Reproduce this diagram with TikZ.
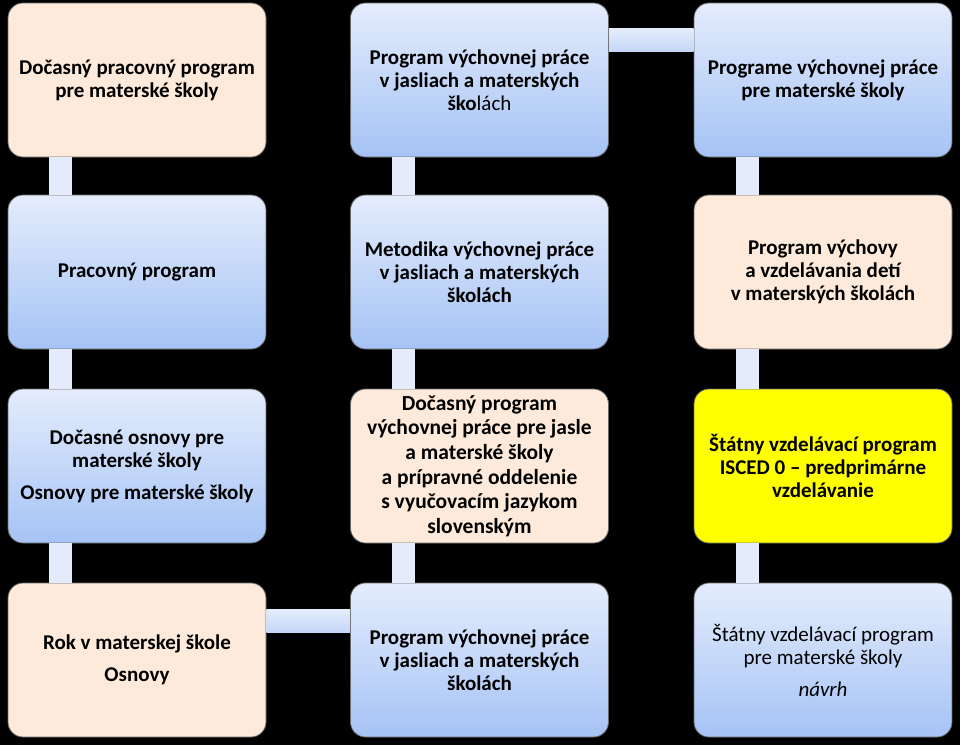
\documentclass[tikz,border=0pt]{standalone}
\usepackage{fontspec}
\setmainfont{Carlito}
\definecolor{boxtop}{RGB}{228, 236, 252}
\definecolor{boxbot}{RGB}{165, 195, 245}
\definecolor{peach}{RGB}{253, 234, 218}
\definecolor{edgegray}{RGB}{105, 105, 105}
\definecolor{bartop}{RGB}{228, 236, 251}
\definecolor{barbot}{RGB}{196, 214, 246}
\definecolor{iscedyellow}{RGB}{255, 255, 0}
\usetikzlibrary{calc}

\begin{document}
\begin{tikzpicture}[x=1pt, y=-1pt,
  card/.style={draw=edgegray, line width=0.8pt, rounded corners=15pt, minimum width=258pt, minimum height=154pt, align=center, inner sep=0pt, font=\fontsize{21}{23}\selectfont\bfseries},
  bluecard/.style={card, top color=boxtop, bottom color=boxbot},
  peachcard/.style={card, fill=peach},
  yellowcard/.style={card, fill=iscedyellow},
  vbar/.style={fill=bartop},
  hbar/.style={top color=bartop, bottom color=barbot}]

  % Background
  \fill[black] (0, 0) rectangle (960, 745);

  % Left column
  \node[peachcard] (l1) at (137, 80) {Dočasný pracovný program\\pre materské školy};
  \node[bluecard] (l2) at (137, 272) {Pracovný program};
  \node[bluecard] (l3) at (137, 466) {Dočasné osnovy pre\\materské školy\\[9pt]Osnovy pre materské školy};
  \node[peachcard] (l4) at (137, 660) {Rok v materskej škole\\[9pt]Osnovy};

  % Middle column
  \node[bluecard] (m1) at (479.5, 80) {Program výchovnej práce\\v jasliach a materských\\ško{\mdseries lách}};
  \node[bluecard] (m2) at (479.5, 272) {Metodika výchovnej práce\\v jasliach a materských\\školách};
  \node[peachcard, font=\fontsize{21.5}{24.6}\selectfont\bfseries] (m3) at (479.5, 466) {Dočasný program\\výchovnej práce pre jasle\\a materské školy\\a prípravné oddelenie\\s vyučovacím jazykom\\slovenským};
  \node[bluecard] (m4) at (479.5, 660) {Program výchovnej práce\\v jasliach a materských\\školách};

  % Right column
  \node[bluecard] (r1) at (823, 80) {Programe výchovnej práce\\pre materské školy};
  \node[peachcard] (r2) at (823, 272) {Program výchovy\\a vzdelávania detí\\v materských školách};
  \node[yellowcard] (r3) at (823, 466) {Štátny vzdelávací program\\ISCED 0 – predprimárne\\vzdelávanie};
  \node[bluecard, font=\fontsize{21}{23}\selectfont] (r4) at (823, 660) {Štátny vzdelávací program\\pre materské školy\\[9pt]\itshape návrh};

  % Vertical links
  \fill[vbar] ([xshift=41pt]l1.south west) rectangle ([xshift=64pt]l2.north west);
  \fill[vbar] ([xshift=41pt]l2.south west) rectangle ([xshift=64pt]l3.north west);
  \fill[vbar] ([xshift=41pt]l3.south west) rectangle ([xshift=64pt]l4.north west);
  \fill[vbar] ([xshift=42pt]m1.south west) rectangle ([xshift=65pt]m2.north west);
  \fill[vbar] ([xshift=42pt]m2.south west) rectangle ([xshift=65pt]m3.north west);
  \fill[vbar] ([xshift=42pt]m3.south west) rectangle ([xshift=65pt]m4.north west);
  \fill[vbar] ([xshift=42pt]r1.south west) rectangle ([xshift=65pt]r2.north west);
  \fill[vbar] ([xshift=42pt]r2.south west) rectangle ([xshift=65pt]r3.north west);
  \fill[vbar] ([xshift=42pt]r3.south west) rectangle ([xshift=65pt]r4.north west);

  % Horizontal links
  \shade[hbar] ([yshift=-26pt]m1.north east) rectangle ([yshift=-49pt]r1.north west);
  \shade[hbar] ([yshift=-27pt]l4.north east) rectangle ([yshift=-50pt]m4.north west);
\end{tikzpicture}
\end{document}
